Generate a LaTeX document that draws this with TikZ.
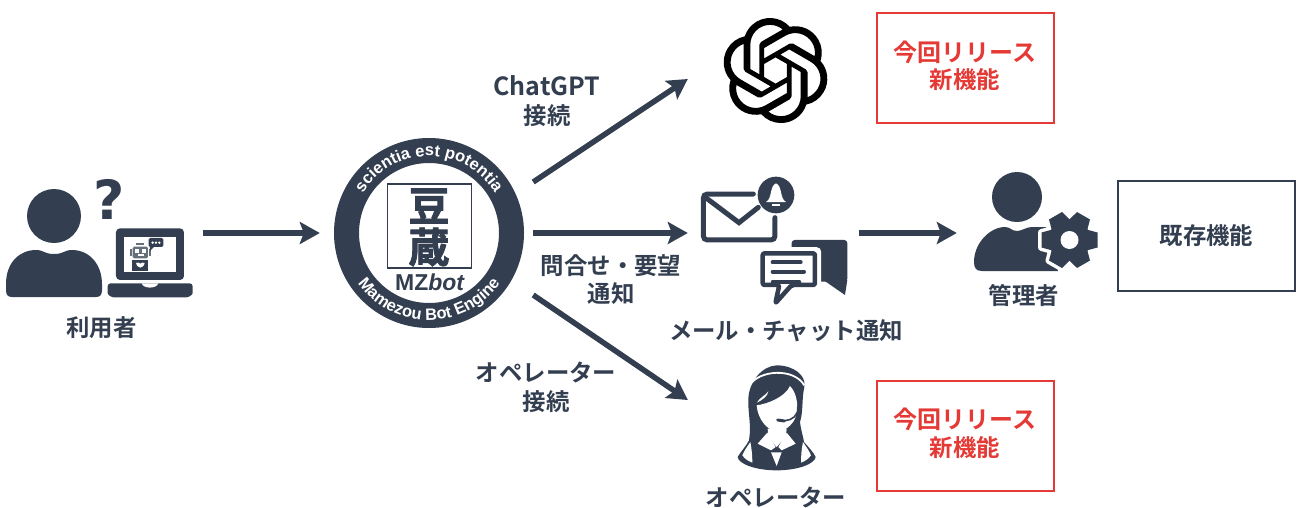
\documentclass[tikz,border=0pt]{standalone}
\usepackage{fontspec}
\setmainfont{Noto Sans CJK JP}[BoldFont={Noto Sans CJK JP Bold}]
\newfontfamily\ringfont{Liberation Sans Bold}
\newfontfamily\logofont{Liberation Sans}[BoldFont={Liberation Sans Bold},BoldItalicFont={Liberation Sans Bold Italic}]
\newfontfamily\heavyfont{Noto Sans CJK JP Bold}[FakeBold=2]
\newfontfamily\qfont{DejaVu Sans Bold}
\usetikzlibrary{arrows.meta,decorations.text,svg.path}
\definecolor{dk}{HTML}{333F50}
\definecolor{rd}{HTML}{E53935}
\tikzset{
  lbl/.style={font=\bfseries\fontsize{23.4}{28.5}\selectfont,text=dk,inner sep=0pt,align=center},
  newbox/.style={draw=rd,line width=2pt,minimum width=177pt,minimum height=110pt,inner sep=0pt,anchor=center},
  oldbox/.style={draw=dk,line width=2pt,minimum width=177pt,minimum height=110pt,inner sep=0pt,anchor=center,font=\bfseries\fontsize{23.4}{28}\selectfont,text=dk},
  conn/.style={draw=dk,line width=5.5pt,-{Stealth[length=20pt,width=22pt,inset=4pt]}},
  port/.style={inner sep=0pt,minimum height=10pt},
  zoomed/.style={x=0.3333pt,y=-0.3333pt},
}
\newcommand{\gearparts}{%
  \path[gearstyle] (0,0) circle (21);
  \foreach \a in {90,150,210,270,330,30}{
    \path[gearstyle,rotate=\a,line join=round] (-10.5,17) -- (-7.5,28) -- (7.5,28) -- (10.5,17) -- cycle;
  }}
\begin{document}
\begin{tikzpicture}[x=1pt,y=-1pt]
\useasboundingbox (0,0) rectangle (1296,507);
% ---- user icon
\fill[dk] (54,216) circle (27);
\fill[dk] (6,284) .. controls (6,262) and (20,250) .. (36,250) .. controls (44,250) and (44,254) .. (54,254) .. controls (64,254) and (64,250) .. (72,250) .. controls (90,250) and (102,265) .. (102,284) -- (102,290) .. controls (102,295) and (100,297) .. (96,297) -- (12,297) .. controls (8,297) and (6,295) .. (6,290) -- cycle;
\node[inner sep=0pt,text=dk,font=\qfont\fontsize{54}{54}\selectfont] (qmark) at (109,199) {?};
\begin{scope}[shift={(0,165)},zoomed]
  \fill[dk,rounded corners=4pt] (348,190) rectangle (552,345);
  \fill[white] (373,217) rectangle (527,320);
  \fill[dk,rounded corners=3pt] (323,355) -- (578,355) -- (578,375) .. controls (578,390) and (565,397) .. (550,397) -- (350,397) .. controls (335,397) and (323,390) .. (323,375) -- cycle;
  \fill[white] (425,355) .. controls (430,372) and (470,372) .. (475,355) -- cycle;
  % robot
  \fill[dk!75] (408,235) rectangle (432,241);
  \fill[dk!75,rounded corners=1.5pt] (398,245) rectangle (444,280);
  \fill[dk!75] (389,253) rectangle (395,272);
  \fill[dk!75] (447,253) rectangle (453,272);
  \fill[white] (406,253) rectangle (417,263);
  \fill[white] (426,253) rectangle (437,263);
  \fill[white] (413,268) rectangle (431,274);
  \fill[dk] (397,285) rectangle (445,318);
  \fill[white] (408,294) .. controls (414,290) and (418,294) .. (421,296) .. controls (424,294) and (428,290) .. (434,294) .. controls (432,304) and (426,306) .. (421,308) .. controls (416,306) and (410,304) .. (408,294) -- cycle;
  \fill[dk,rounded corners=1.5pt] (446,219) rectangle (490,246);
  \fill[dk] (450,244) -- (450,258) -- (464,244) -- cycle;
  \fill[white] (458,233) circle (4);
  \fill[white] (468,233) circle (4);
  \fill[white] (478,233) circle (4);
\end{scope}
\node[lbl] (userlabel) at (101.5,328) {利用者};
\node[port,minimum width=206pt] (user) at (100,233) {};
% ---- bot emblem
\begin{scope}[shift={(429,233)},x=1pt,y=1pt]
  \draw[dk,line width=25pt] (0,0) circle (82.5);
  \path[decorate,decoration={text along path,text align=center,text color=white,
    text={|\ringfont\fontsize{16.5}{16.5}\selectfont|scientia est potentia}}]
    (155:77) arc (155:25:77);
  \path[decorate,decoration={text along path,text align=center,text color=white,
    text={|\ringfont\fontsize{16.5}{16.5}\selectfont|Mamezou Bot Engine}}]
    (205:87) arc (205:335:87);
\end{scope}
\node[draw=dk,line width=1.5pt,minimum width=84pt,minimum height=84pt,inner sep=0pt] (seal) at (429.5,226) {};
\node[inner sep=0pt,text=dk,font=\heavyfont\fontsize{41}{41}\selectfont] (mame) at (429,206) {豆};
\node[inner sep=0pt,text=dk,font=\heavyfont\fontsize{41}{41}\selectfont] (kura) at (429,247) {蔵};
\node[inner sep=0pt,text=dk,font=\logofont\bfseries\fontsize{23}{23}\selectfont] (mz) at (430,282) {MZ\textit{bot}};
\node[port,minimum width=213pt,minimum height=124pt] (bot) at (426.5,233) {};
% ---- OpenAI knot
\begin{scope}[shift={(723,18)},scale=4.375,yscale=-1]
\fill[black] svg "M22.2819 9.8211a5.9847 5.9847 0 0 0-.5157-4.9108 6.0462 6.0462 0 0 0-6.5098-2.9A6.0651 6.0651 0 0 0 4.9807 4.1818a5.9847 5.9847 0 0 0-3.9977 2.9 6.0462 6.0462 0 0 0 .7427 7.0966 5.98 5.98 0 0 0 .511 4.9107 6.051 6.051 0 0 0 6.5146 2.9001A5.9847 5.9847 0 0 0 13.2599 24a6.0557 6.0557 0 0 0 5.7718-4.2058 5.9894 5.9894 0 0 0 3.9977-2.9001 6.0557 6.0557 0 0 0-.7475-7.0729z M13.2599 22.4292a4.4755 4.4755 0 0 1-2.8764-1.0408l.1419-.0804 4.7783-2.7582a.7948 .7948 0 0 0 .3927-.6813v-6.7369l2.02 1.1686a.071 .071 0 0 1 .038 .052v5.5826a4.504 4.504 0 0 1-4.4945 4.4944z M3.5992 18.3038a4.4708 4.4708 0 0 1-.5346-3.0137l.142 .0852 4.783 2.7582a.7712 .7712 0 0 0 .7806 0l5.8428-3.3685v2.3324a.0804 .0804 0 0 1-.0332 .0615L9.74 19.9502a4.4992 4.4992 0 0 1-6.1408-1.6464zM2.3408 7.8956a4.485 4.485 0 0 1 2.3655-1.9728V11.6a.7664 .7664 0 0 0 .3879 .6765l5.8144 3.3543-2.0201 1.1685a.0757 .0757 0 0 1-.071 0l-4.8303-2.7865A4.504 4.504 0 0 1 2.3408 7.872z M18.9371 11.7514L13.1038 8.364 15.1192 7.2a.0757 .0757 0 0 1 .071 0l4.8303 2.7913a4.4944 4.4944 0 0 1-.6765 8.1042v-5.6772a.79 .79 0 0 0-.407-.667z M20.9478 8.7283l-.142-.0852-4.7735-2.7818a.7759 .7759 0 0 0-.7854 0L9.409 9.2297V6.8974a.0662 .0662 0 0 1 .0284-.0615l4.8303-2.7866a4.4992 4.4992 0 0 1 6.6802 4.66zM8.3065 12.863l-2.02-1.1638a.0804 .0804 0 0 1-.038-.0567V6.0742a4.4992 4.4992 0 0 1 7.3757-3.4537l-.142 .0805L8.704 5.459a.7948 .7948 0 0 0-.3927 .6813z M9.4041 10.4976l2.602-1.4998 2.6069 1.4998v2.9994l-2.5974 1.4997-2.6067-1.4997Z";
\end{scope}
\node[port,minimum width=176pt] (gpt) at (776,79) {};
% ---- mail and chat
\begin{scope}[shift={(690,170)},zoomed]
  \draw[dk,line width=5pt,rounded corners=4pt,line cap=round] (190,72) -- (40,72) -- (40,210) -- (255,210) -- (255,143);
  \draw[dk,line width=5pt,line cap=round] (50,85) -- (147,158) -- (205,112);
  \fill[dk] (258,75) circle (55);
  \fill[white] (258,40) .. controls (238,48) and (248,85) .. (228,96) -- (288,96) .. controls (268,85) and (278,48) .. (258,40) -- cycle;
  \fill[white] (247,103) rectangle (269,108);
  \fill[dk,rounded corners=3pt] (305,210) rectangle (472,335);
  \fill[dk] (400,330) -- (465,375) -- (472,330) -- cycle;
  \draw[white,line width=9pt,fill=white,line join=round] (212,245) -- (380,245) -- (380,345) -- (305,345) -- (256,405) -- (265,345) -- (212,345) -- cycle;
  \draw[dk,line width=4.5pt,fill=white,line join=round,rounded corners=2pt] (218,250) -- (375,250) -- (375,345) -- (305,345) -- (256,400) -- (268,345) -- (218,345) -- cycle;
  \draw[dk,line width=4pt,line cap=round] (248,277) -- (332,277);
  \draw[dk,line width=4pt,line cap=round] (248,305) -- (342,305);
  \draw[dk,line width=4pt,line cap=round] (248,337) -- (328,337);
\end{scope}
\node[port,minimum width=171pt] (mail) at (773.5,233) {};
\node[lbl] (maillabel) at (786,331) {メール・チャット通知};
% ---- admin
\fill[dk] (1017,197) circle (25);
\fill[dk] (974,262) .. controls (974,243) and (990,227) .. (1005,227) .. controls (1010,227) and (1012,231) .. (1017,231) .. controls (1022,231) and (1026,227) .. (1032,227) -- (1046,227) -- (1058,271) -- (982,271) .. controls (976,271) and (974,268) .. (974,262) -- cycle;
\begin{scope}[shift={(1069.5,240)},x=1pt,y=1pt]
  \tikzset{gearstyle/.style={draw=white,fill=white,line width=7pt}}
  \gearparts
  \tikzset{gearstyle/.style={fill=dk}}
  \gearparts
  \fill[white] (0,0) circle (9);
\end{scope}
\node[port,minimum width=144pt] (admin) at (1029,233) {};
\node[lbl] (adminlabel) at (1024,296) {管理者};
% ---- operator
\begin{scope}[shift={(735,362)},zoomed]
  \fill[dk] (125,10) .. controls (175,10) and (215,40) .. (208,75) .. controls (200,110) and (205,150) .. (195,180) .. controls (198,205) and (205,225) .. (207,240) .. controls (220,255) and (235,270) .. (242,285) .. controls (240,305) and (190,325) .. (125,325) .. controls (60,325) and (10,305) .. (8,285) .. controls (20,265) and (35,250) .. (42,235) .. controls (50,190) and (38,150) .. (40,110) .. controls (42,60) and (80,12) .. (125,10) -- cycle;
  \draw[white,line width=1.8pt] (44,70) .. controls (70,25) and (175,15) .. (208,70);
  \fill[white] (65,130) .. controls (100,125) and (150,105) .. (165,72) .. controls (188,95) and (192,140) .. (180,170) .. controls (170,190) and (150,208) .. (125,208) .. controls (95,205) and (68,170) .. (65,130) -- cycle;
  \fill[white] (100,88) .. controls (92,100) and (72,108) .. (66,122) .. controls (85,112) and (98,102) .. (100,88) -- cycle;
  \draw[dk,line width=1.6pt] (188,135) .. controls (192,160) and (170,175) .. (150,176);
  \draw[dk,line width=3pt,line cap=round] (128,174) -- (148,177);
  \fill[white] (98,200) -- (155,200) -- (152,225) -- (125,255) -- (100,225) -- cycle;
  \fill[white] (97,212) -- (68,245) -- (108,265) -- (122,255) -- cycle;
  \fill[white] (155,212) -- (182,245) -- (140,265) -- (130,255) -- cycle;
  \fill[white] (108,271) -- (140,271) -- (125,312) -- cycle;
  \fill[white] (46,240) .. controls (36,255) and (28,265) .. (22,280) .. controls (30,292) and (42,298) .. (52,302) .. controls (52,280) and (50,260) .. (46,240) -- cycle;
  \fill[white] (204,240) .. controls (214,255) and (222,265) .. (228,280) .. controls (220,292) and (208,298) .. (198,302) .. controls (198,280) and (200,260) .. (204,240) -- cycle;
\end{scope}
\node[port,minimum width=176pt] (oper) at (776,400) {};
\node[lbl] (operlabel) at (776,497) {オペレーター};
% ---- connector labels
\node[lbl] (l1) at (547,101) {\fontsize{25}{28.5}\selectfont ChatGPT\\[0pt]\fontsize{23.4}{28.5}\selectfont 接続};
\node[lbl] (l2) at (611,279.5) {問合せ・要望\\[0pt]通知};
\node[lbl] (l3) at (546,387.5) {オペレーター\\[0pt]接続};
% ---- boxes
\node[newbox] (new1) at (965.5,68) {};
\node[inner sep=0pt,text=rd,font=\bfseries\fontsize{24}{24}\selectfont] (new1a) at (965,52) {今回リリース};
\node[inner sep=0pt,text=rd,font=\bfseries\fontsize{23.4}{24}\selectfont] (new1b) at (965,80) {新機能};
\node[newbox] (new2) at (965.5,436) {};
\node[inner sep=0pt,text=rd,font=\bfseries\fontsize{24}{24}\selectfont] (new2a) at (965,419) {今回リリース};
\node[inner sep=0pt,text=rd,font=\bfseries\fontsize{23.4}{24}\selectfont] (new2b) at (965,448) {新機能};
\node[oldbox] (old) at (1206.5,236) {\raisebox{3pt}{既存機能}};
% ---- connectors
\draw[conn] (user.east) -- (bot.west);
\draw[conn] ([yshift=51pt]bot.east) -- (gpt.west);
\draw[conn] (bot.east) -- (mail.west);
\draw[conn] ([yshift=-62pt]bot.east) -- (oper.west);
\draw[conn] (mail.east) -- (admin.west);
\end{tikzpicture}
\end{document}
